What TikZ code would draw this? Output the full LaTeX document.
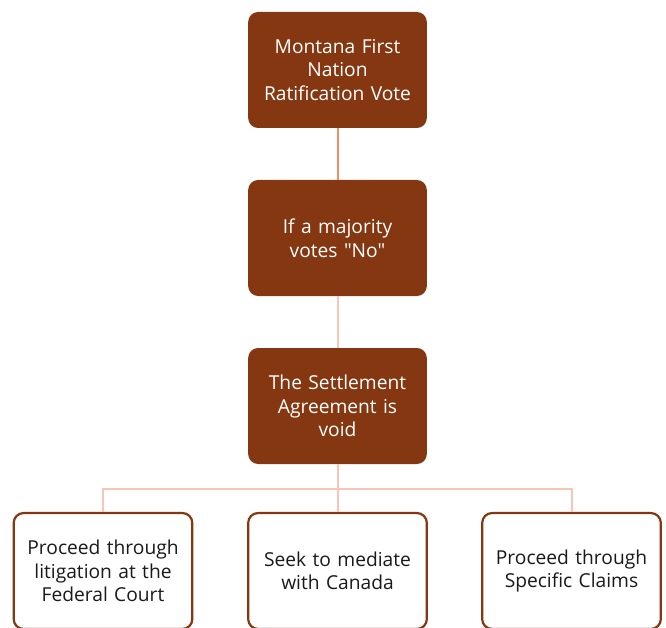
\documentclass[tikz,border=0pt]{standalone}
\usepackage{fontspec}
\setmainfont{Open Sans}[Ligatures=TeXOff]
\definecolor{bark}{RGB}{132,55,17}
\definecolor{salmon}{RGB}{238,142,104}
\definecolor{blush}{RGB}{246,198,182}
\definecolor{ink}{RGB}{25,25,25}
\begin{document}
\begin{tikzpicture}[x=1pt,y=-1pt]

        \useasboundingbox (0,0) rectangle (666,628);
        \clip (0,0) rectangle (666,628);

        \begin{scope}[every node/.style={rounded corners=10pt,align=center,
            minimum width=177pt,minimum height=116pt,text width=172pt,
            font=\fontsize{19.2}{23.5}\selectfont}]
          \node[fill=bark,text=white] (vote)  at (337.5,70)  {Montana First\\Nation\\Ratification Vote};
          \node[fill=bark,text=white] (no)    at (337.5,238) {If a majority\\votes "No"};
          \node[fill=bark,text=white] (void)  at (337.5,406) {The Settlement\\Agreement is\\void};
          \node[draw=bark,text=ink,line width=2.2pt,minimum width=178pt] (court) at (103,571)   {Proceed through\\litigation at the\\Federal Court};
          \node[draw=bark,text=ink,line width=2.2pt,minimum width=178pt] (canada) at (337.5,571) {Seek to mediate\\with Canada};
          \node[draw=bark,text=ink,line width=2.2pt,minimum width=178pt] (claims) at (571.5,571) {Proceed through\\Specific Claims};
        \end{scope}

        \coordinate (fork) at (337.5,489);

        \begin{scope}[line width=2pt]
          \draw[salmon] (vote) -- (no);
          \draw[blush] (no) -- (void);
          \draw[blush] (void) -- (fork);
          \draw[blush] (fork) -| (court);
          \draw[blush] (fork) -- (canada);
          \draw[blush] (fork) -| (claims);
        \end{scope}

      \end{tikzpicture}
\end{document}
